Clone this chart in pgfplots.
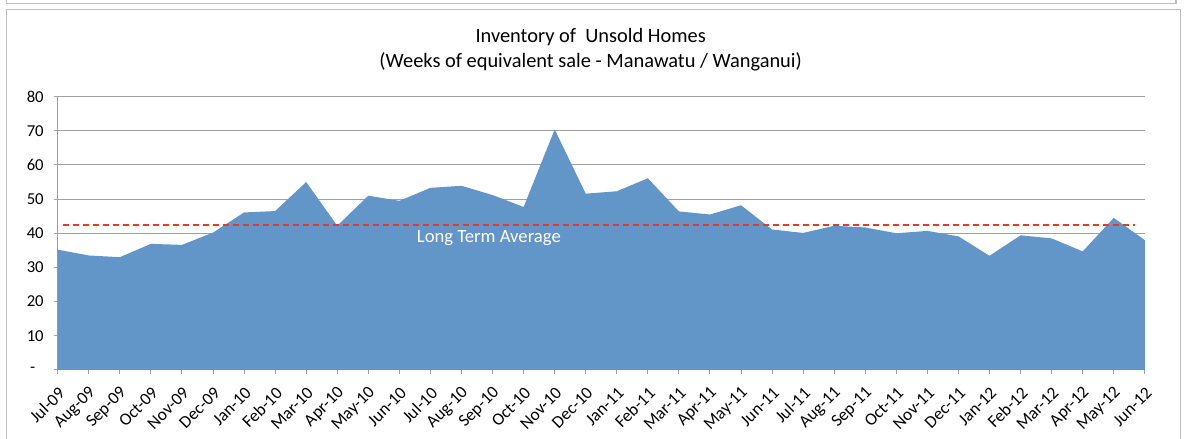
\documentclass[border=0pt]{standalone}
\usepackage{pgfplots}
\pgfplotsset{compat=1.18}
\usepackage{fontspec}
\setmainfont{Carlito}
\definecolor{areablue}{RGB}{98,149,200}
\definecolor{avgred}{RGB}{235,55,35}
\definecolor{gridgray}{RGB}{160,160,160}
\definecolor{framegray}{RGB}{190,190,190}
\begin{document}
\begin{tikzpicture}
\useasboundingbox (0,0) rectangle (889.5pt,-329.25pt);
\draw[framegray, line width=0.9pt] (5.0pt,3pt) -- (5.0pt,-2.5pt) -- (882pt,-2.5pt) -- (882pt,3pt);
\draw[framegray, line width=1pt] (5.0pt,-340pt) -- (5.0pt,-7.3pt) -- (885.5pt,-7.3pt) -- (885.5pt,-340pt);
\node[align=center, font=\fontsize{15.3pt}{18.5pt}\selectfont] at (443pt,-37.5pt) {Inventory of~ Unsold Homes\\(Weeks of equivalent sale - Manawatu / Wanganui)};
\begin{axis}[
  at={(43.3pt,-277.4pt)}, anchor=south west,
  scale only axis, width=815.3pt, height=204.9pt,
  xmin=0, xmax=35, ymin=0, ymax=80,
  axis x line=bottom, axis y line=left,
  axis line style={-, draw=gridgray, line width=0.75pt},
  xtick={0,...,35},
  xticklabels={Jul-09,Aug-09,Sep-09,Oct-09,Nov-09,Dec-09,Jan-10,Feb-10,Mar-10,Apr-10,May-10,Jun-10,Jul-10,Aug-10,Sep-10,Oct-10,Nov-10,Dec-10,Jan-11,Feb-11,Mar-11,Apr-11,May-11,Jun-11,Jul-11,Aug-11,Sep-11,Oct-11,Nov-11,Dec-11,Jan-12,Feb-12,Mar-12,Apr-12,May-12,Jun-12},
  ytick={0,10,...,80},
  yticklabels={{-\hphantom{0}\hspace{2pt}},10,20,30,40,50,60,70,80},
  ymajorgrids, grid style={gridgray, line width=0.75pt},
  tick align=outside, major tick length=3pt,
  tick style={gridgray, line width=0.75pt},
  xticklabel style={rotate=45, anchor=east, font=\fontsize{13pt}{15pt}\selectfont, yshift=-10.9pt, xshift=-3.1pt},
  yticklabel style={font=\fontsize{12.5pt}{14pt}\selectfont, xshift=-4pt},
  clip=false,
]
\addplot[fill=areablue, draw=none] coordinates {
(0,35.2) (1,33.5) (2,33.0) (3,36.9) (4,36.6) (5,40.2) (6,46.1) (7,46.5) (8,55.0) (9,42.2)
(10,51.0) (11,49.5) (12,53.3) (13,53.9) (14,51.2) (15,47.7) (16,70.4) (17,51.6) (18,52.3) (19,56.1)
(20,46.4) (21,45.5) (22,48.2) (23,41.1) (24,40.1) (25,42.2) (26,41.7) (27,40.0) (28,40.7) (29,39.1)
(30,33.4) (31,39.4) (32,38.5) (33,34.7) (34,44.5) (35,38.0)
} \closedcycle;
\addplot[avgred, line width=1.5pt, dash pattern=on 4.5pt off 3pt] coordinates {(0.16,42.4) (34.67,42.4)};
\node[white, font=\fontsize{14pt}{16pt}\selectfont] at (axis cs:13.88,38.6) {Long Term Average};
\end{axis}
\end{tikzpicture}
\end{document}
